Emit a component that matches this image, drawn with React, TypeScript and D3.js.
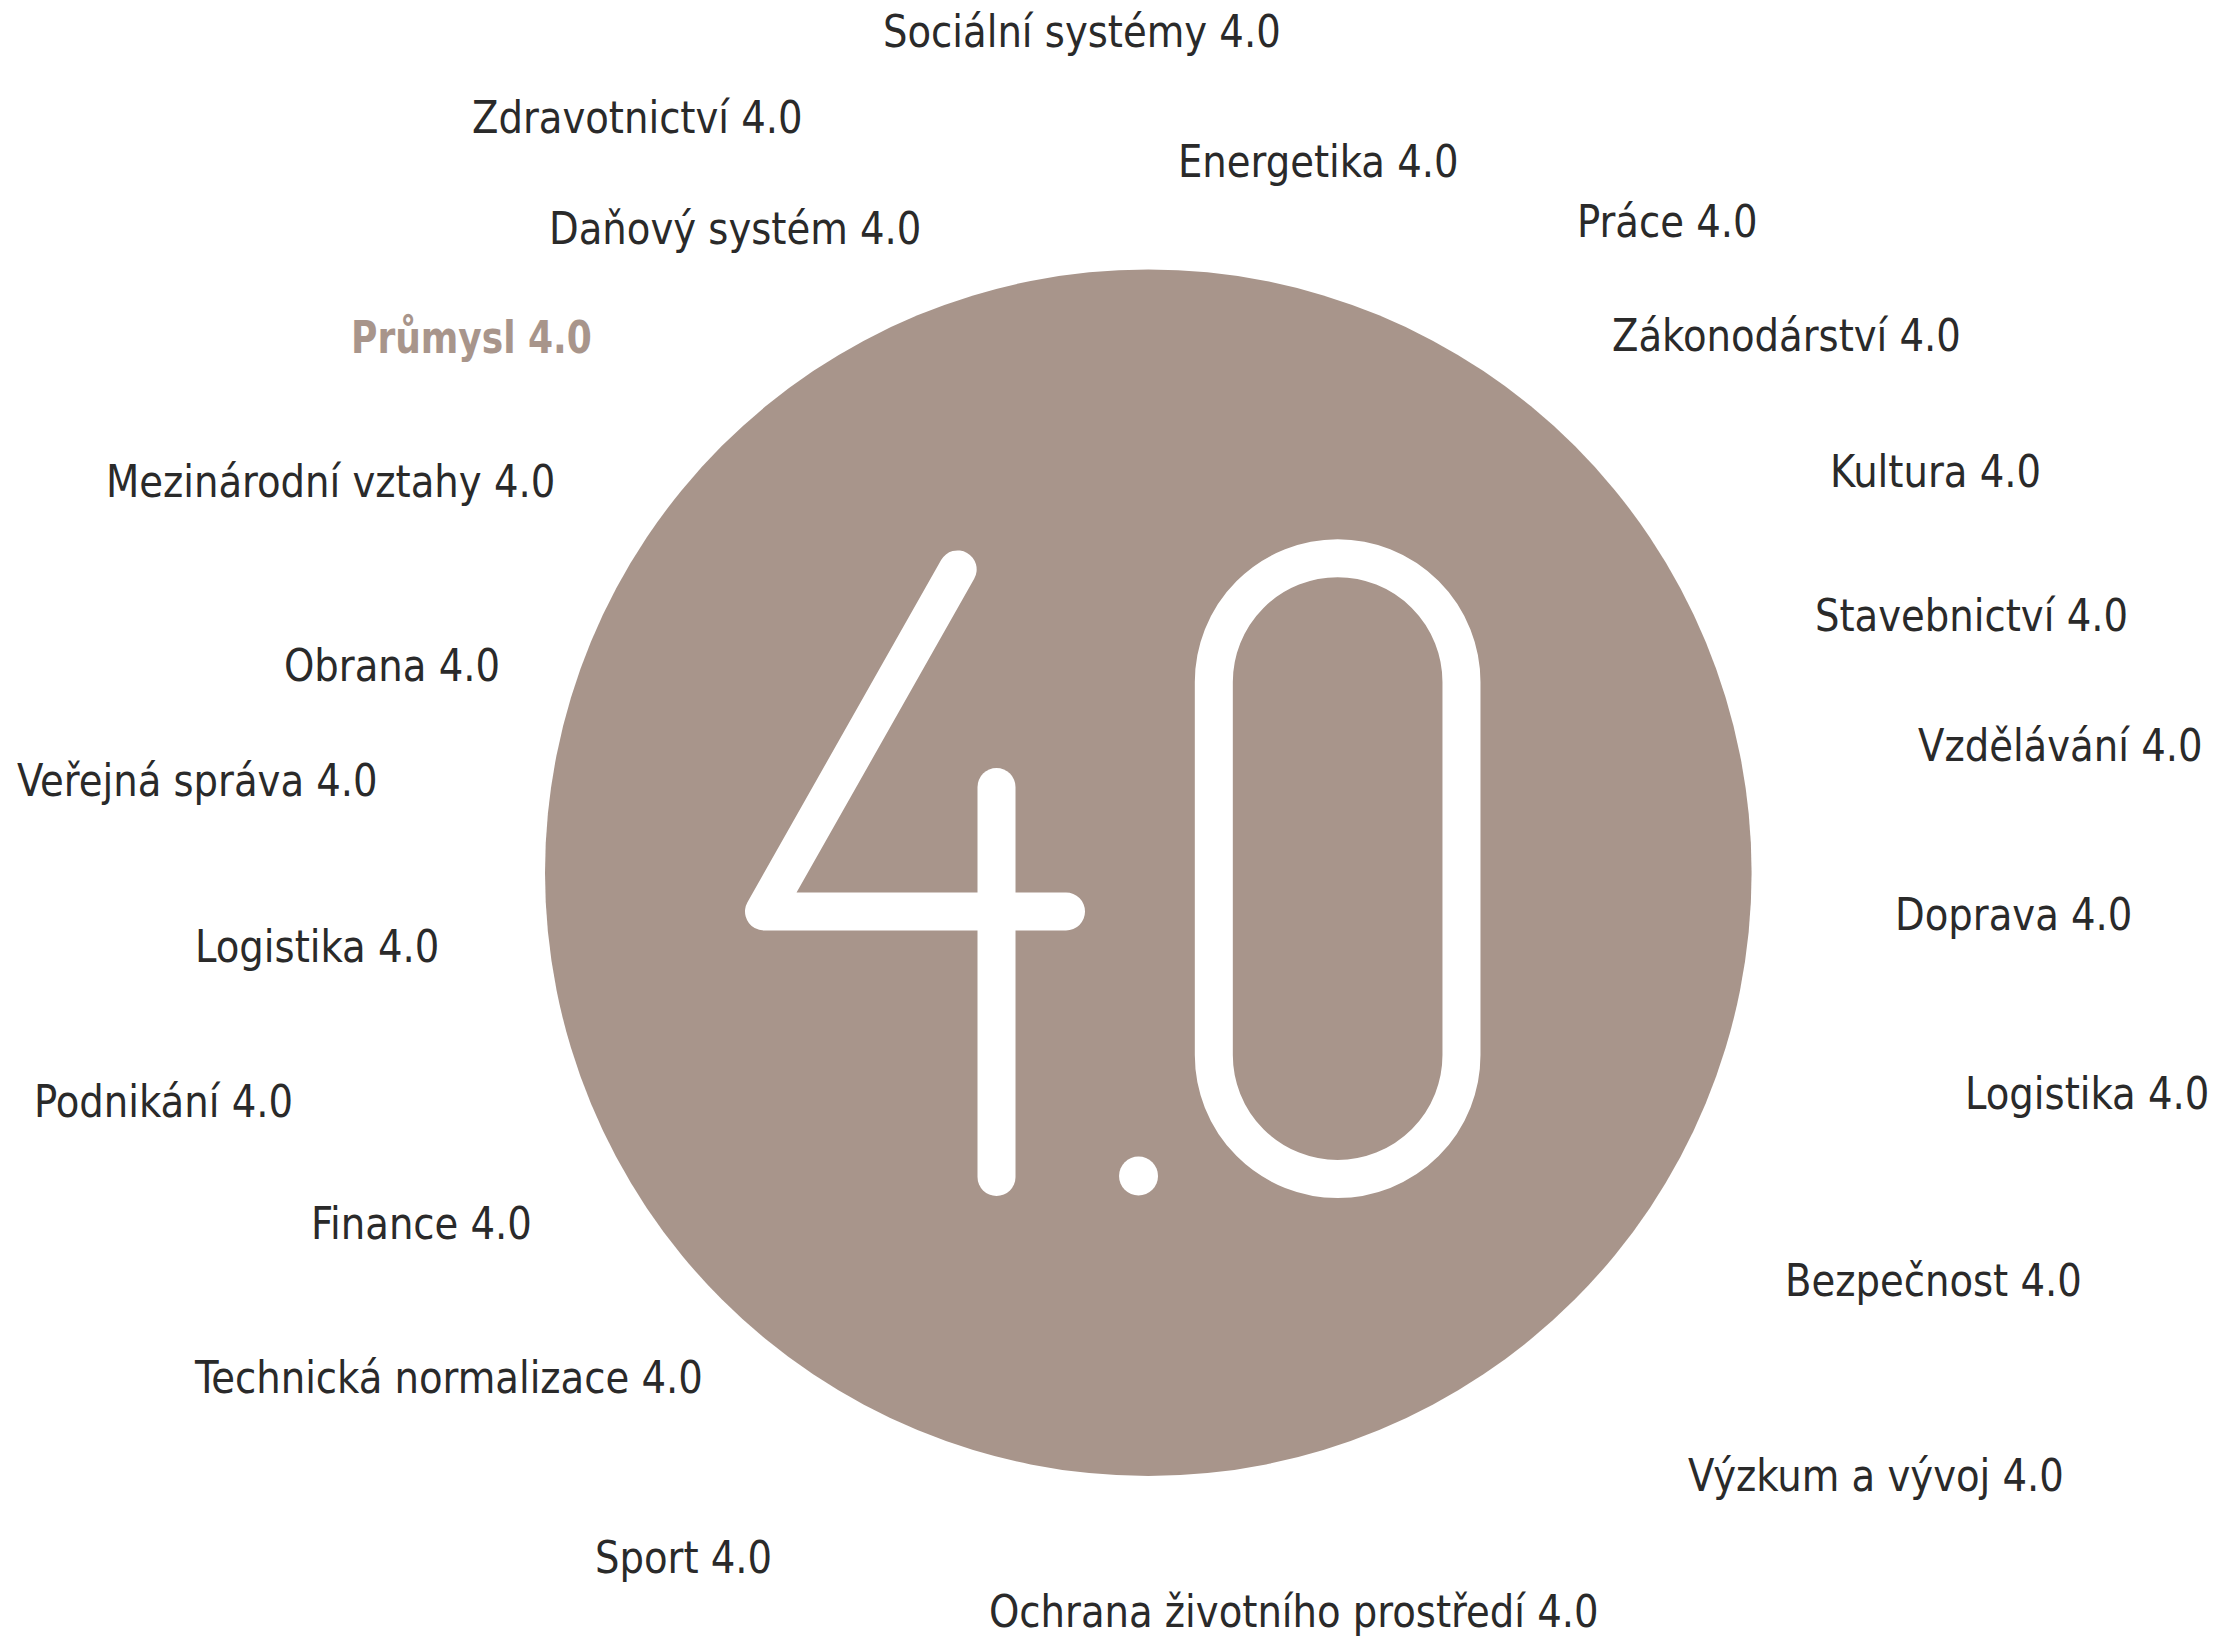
import React, { useEffect, useRef } from "react";
import * as d3 from "d3";

// ---- data ----
const labels: string[] = [
  "Sociální systémy 4.0",
  "Zdravotnictví 4.0",
  "Energetika 4.0",
  "Práce 4.0",
  "Daňový systém 4.0",
  "Průmysl 4.0",
  "Zákonodárství 4.0",
  "Kultura 4.0",
  "Mezinárodní vztahy 4.0",
  "Stavebnictví 4.0",
  "Obrana 4.0",
  "Vzdělávání 4.0",
  "Veřejná správa 4.0",
  "Doprava 4.0",
  "Logistika 4.0",
  "Logistika 4.0",
  "Podnikání 4.0",
  "Finance 4.0",
  "Bezpečnost 4.0",
  "Technická normalizace 4.0",
  "Výzkum a vývoj 4.0",
  "Sport 4.0",
  "Ochrana životního prostředí 4.0",
];
const highlighted: string[] = ["Průmysl 4.0"];
const centerText = "4.0";

// ---- layout (left x, vertical centre y) ----
const labelLayout: [number, number][] = [
  [883, 31], [472, 117], [1178, 161], [1577, 221], [549, 228],
  [351, 337], [1612, 335], [1830, 471], [106, 481], [1815, 615],
  [284, 665], [1918, 745], [17, 780], [1895, 914], [195, 946],
  [1965, 1093], [34, 1101], [311, 1223], [1785, 1280], [195, 1377],
  [1688, 1475], [595, 1557], [989, 1611],
];

const W = 2237;
const H = 1637;
const CX = 1148.3;
const CY = 872.7;
const R = 603.3;
const CIRCLE_COLOR = "#a8958b";
const TEXT_COLOR = "#2a2a2a";
const FONT = "'DejaVu Sans Condensed', 'DejaVu Sans', sans-serif";
const FONT_SIZE = 44;
const X_SQUEEZE = 0.975;
const X_SQUEEZE_BOLD = 0.91;

export default function App() {
  const ref = useRef<SVGSVGElement>(null);

  useEffect(() => {
    const svg = d3.select(ref.current);
    svg.selectAll("*").remove();

    const sx = d3.scaleLinear().domain([-1, 1]).range([CX - R, CX + R]);
    const sy = d3.scaleLinear().domain([-1, 1]).range([CY - R, CY + R]);
    const sr = (v: number) => v * R;

    svg.append("rect").attr("width", W).attr("height", H).attr("fill", "#ffffff");

    svg
      .append("circle")
      .attr("cx", CX)
      .attr("cy", CY)
      .attr("r", R)
      .attr("fill", CIRCLE_COLOR);

    // big "4.0" emblem
    const g = svg.append("g").attr("aria-label", centerText);
    const stroke = sr(0.063);
    const line = d3.line<[number, number]>().x((d) => sx(d[0])).y((d) => sy(d[1]));

    g.append("path")
      .attr("d", line([[-0.316, -0.5027], [-0.637, 0.0643], [-0.1364, 0.0643]]))
      .attr("fill", "none")
      .attr("stroke", "#fff")
      .attr("stroke-width", stroke)
      .attr("stroke-linecap", "round")
      .attr("stroke-linejoin", "round");

    g.append("path")
      .attr("d", line([[-0.2516, -0.142], [-0.2516, 0.5044]]))
      .attr("fill", "none")
      .attr("stroke", "#fff")
      .attr("stroke-width", stroke)
      .attr("stroke-linecap", "round");

    g.append("circle")
      .attr("cx", sx(-0.0162))
      .attr("cy", sy(0.5027))
      .attr("r", sr(0.0323))
      .attr("fill", "#fff");

    const zl = sx(0.1086), zr = sx(0.5191), zt = sy(-0.3161), zb = sy(0.3023);
    const zrad = (zr - zl) / 2;
    const zc = (zl + zr) / 2;
    const p = d3.path();
    p.moveTo(zl, zt);
    p.lineTo(zl, zb);
    p.arc(zc, zb, zrad, Math.PI, 0, true);
    p.lineTo(zr, zt);
    p.arc(zc, zt, zrad, 0, -Math.PI, true);
    p.closePath();
    g.append("path")
      .attr("d", p.toString())
      .attr("fill", "none")
      .attr("stroke", "#fff")
      .attr("stroke-width", stroke);

    // labels
    const lg = svg.append("g");
    labels.forEach((t, i) => {
      const [x, y] = labelLayout[i];
      const hl = highlighted.includes(t);
      lg.append("text")
        .attr("transform", `translate(${x},${y}) scale(${hl ? X_SQUEEZE_BOLD : X_SQUEEZE},1)`)
        .attr("dy", "0.36em")
        .attr("font-family", FONT)
        .attr("font-size", FONT_SIZE)
        .attr("font-weight", hl ? 700 : 400)
        .attr("fill", hl ? CIRCLE_COLOR : TEXT_COLOR)
        .text(t);
    });
  }, []);

  return (
    <svg
      ref={ref}
      width={W}
      height={H}
      style={{ position: "absolute", left: 0, top: 0, display: "block" }}
    />
  );
}
